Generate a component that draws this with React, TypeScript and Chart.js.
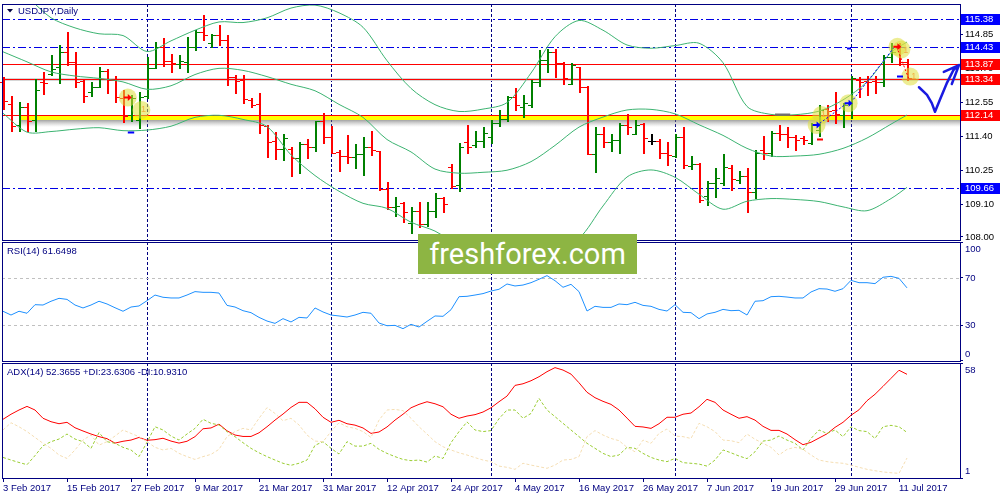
import React, { useEffect, useRef } from "react"
import { Chart, registerables } from "chart.js"

Chart.register(...registerables)

// bar index 0 = 3 Feb 2017, one bar per trading day (last bar = 12 Jul 2017)
const dateLabels = ["3 Feb 2017", "15 Feb 2017", "27 Feb 2017", "9 Mar 2017", "21 Mar 2017", "31 Mar 2017", "12 Apr 2017", "24 Apr 2017", "4 May 2017", "16 May 2017", "26 May 2017", "7 Jun 2017", "19 Jun 2017", "29 Jun 2017", "11 Jul 2017"]
const dateLabelBars = [0, 8, 16, 24, 32, 40, 48, 56, 64, 72, 80, 88, 96, 104, 112]
const monthStartBars = [18, 41, 61, 84, 106]

const open = [
  113.25, 112.49, 111.79, 112.40, 111.96, 113.26, 113.52, 113.74, 114.25, 113.91,
  113.28, 112.90, 113.09, 113.62, 113.32, 112.70, 112.13, 111.96, 112.77, 113.71,
  114.42, 113.97, 113.86, 113.94, 114.44, 114.95, 114.56, 114.84, 114.67, 113.43,
  113.32, 112.64, 112.49, 111.77, 111.25, 110.97, 110.97, 110.66, 111.15, 111.03,
  111.91, 111.40, 110.89, 110.74, 110.72, 110.81, 111.06, 110.90, 109.61, 109.00,
  109.16, 108.46, 108.88, 108.44, 108.88, 109.31, 110.38, 109.76, 111.23, 111.12,
  111.26, 111.40, 111.85, 111.98, 112.73, 112.41, 112.47, 113.26, 113.99, 114.27,
  113.88, 113.18, 113.77, 113.09, 110.81, 111.49, 111.23, 111.28, 111.79, 111.49,
  111.82, 111.25, 111.25, 110.83, 110.74, 111.38, 110.42, 110.46, 109.40, 109.82,
  109.82, 110.33, 109.93, 110.08, 109.54, 110.95, 110.86, 111.53, 111.49, 111.38,
  111.34, 111.19, 111.62, 112.32, 112.30, 112.13, 112.49, 113.32, 113.29, 113.29,
  113.26, 114.11, 114.44, 113.94,
]
const high = [
  113.43, 112.77, 112.57, 112.53, 113.34, 113.60, 114.16, 114.50, 114.93, 114.27,
  113.34, 113.26, 113.77, 113.69, 113.45, 112.98, 112.81, 112.92, 114.11, 114.59,
  114.73, 114.20, 114.16, 114.76, 115.01, 115.50, 114.87, 115.18, 114.84, 113.49,
  113.49, 112.70, 112.86, 111.79, 111.57, 111.49, 111.06, 111.21, 111.32, 111.94,
  112.19, 111.76, 110.95, 111.45, 111.15, 111.40, 111.60, 110.92, 109.85, 109.37,
  109.20, 109.03, 109.20, 109.17, 109.48, 109.37, 110.46, 111.17, 111.79, 111.60,
  111.71, 111.96, 112.30, 112.77, 113.03, 112.81, 113.32, 114.33, 114.35, 114.35,
  113.94, 113.88, 113.77, 113.11, 111.74, 111.71, 111.49, 111.85, 112.15, 111.96,
  111.85, 111.49, 111.31, 111.21, 111.49, 111.74, 110.75, 110.52, 109.90, 110.33,
  110.81, 110.44, 110.25, 110.33, 110.95, 111.42, 111.59, 111.79, 111.74, 111.45,
  111.42, 111.85, 112.47, 112.47, 112.92, 112.53, 113.46, 113.43, 113.45, 113.46,
  114.16, 114.56, 114.58, 114.02,
]
const low = [
  112.32, 111.60, 111.60, 111.60, 111.60, 112.84, 113.49, 113.23, 113.82, 113.07,
  112.58, 112.77, 113.07, 112.89, 112.58, 111.90, 111.93, 111.68, 112.70, 113.71,
  113.79, 113.60, 113.71, 113.60, 114.33, 114.67, 114.44, 114.50, 113.15, 112.89,
  112.55, 112.41, 111.53, 110.72, 110.63, 110.59, 110.08, 110.16, 110.69, 110.92,
  111.19, 110.83, 110.25, 110.52, 110.33, 110.10, 110.78, 109.59, 108.94, 108.71,
  108.52, 108.13, 108.33, 108.37, 108.69, 108.86, 109.65, 109.57, 110.85, 111.06,
  111.06, 111.19, 111.76, 111.94, 112.30, 112.05, 112.39, 113.11, 113.60, 113.43,
  113.18, 113.18, 112.92, 110.81, 110.21, 111.04, 110.92, 110.86, 111.49, 111.49,
  110.86, 111.15, 110.66, 110.44, 110.72, 110.33, 110.29, 109.20, 109.08, 109.37,
  109.76, 109.59, 109.82, 108.84, 109.31, 110.63, 110.74, 111.28, 111.04, 110.95,
  111.15, 111.15, 111.42, 111.91, 111.85, 111.71, 112.02, 112.73, 112.81, 112.86,
  113.11, 113.94, 113.82, 113.31,
]
const close = [
  112.62, 111.76, 112.40, 111.93, 112.98, 113.20, 113.69, 114.25, 113.94, 113.26,
  112.77, 113.09, 113.63, 113.32, 112.73, 112.10, 112.70, 112.73, 113.71, 114.42,
  113.97, 113.90, 113.97, 114.42, 114.95, 114.84, 114.84, 114.67, 113.43, 113.29,
  112.66, 112.47, 111.79, 111.23, 110.97, 111.34, 110.66, 111.15, 111.06, 111.93,
  111.40, 110.86, 110.74, 110.72, 110.81, 111.06, 110.95, 109.61, 109.03, 109.05,
  108.86, 108.89, 108.44, 108.88, 109.31, 109.11, 109.74, 111.06, 111.06, 111.25,
  111.51, 111.87, 111.98, 112.73, 112.47, 112.53, 113.26, 113.99, 114.27, 113.88,
  113.37, 113.82, 113.09, 110.81, 111.49, 111.23, 111.28, 111.79, 111.74, 111.79,
  111.34, 111.25, 110.83, 110.78, 111.38, 110.44, 110.46, 109.25, 109.82, 109.99,
  110.36, 109.95, 110.08, 109.54, 110.83, 110.86, 111.53, 111.49, 111.40, 111.28,
  111.28, 111.79, 112.30, 112.28, 112.16, 112.47, 113.37, 113.26, 113.26, 113.25,
  114.11, 114.27, 113.94, 113.37,
]

// Bollinger bands read every third bar
const bbBars = [0, 3, 6, 9, 12, 15, 18, 21, 24, 27, 30, 33, 36, 39, 42, 45, 48, 51, 54, 57, 60, 63, 66, 69, 72, 75, 78, 81, 84, 87, 90, 93, 96, 99, 102, 105, 108, 111, 113]
const bbUpper = [116.4, 116.1, 115.42, 115.08, 114.88, 114.82, 114.28, 114.64, 115.0, 115.28, 115.26, 115.42, 115.75, 115.85, 115.59, 115.1, 113.97, 113.03, 112.48, 112.25, 112.33, 112.55, 113.55, 114.78, 115.33, 115.0, 114.5, 114.39, 114.48, 114.56, 113.9, 112.42, 112.15, 112.14, 112.26, 112.64, 113.25, 114.25, 114.6]
const bbMiddle = [114.27, 113.93, 113.59, 113.45, 113.37, 113.25, 113.0, 113.12, 113.5, 113.71, 113.64, 113.43, 113.17, 112.95, 112.49, 112.05, 111.3, 110.88, 110.3, 110.16, 110.19, 110.26, 110.55, 111.1, 111.72, 112.06, 112.3, 112.32, 112.17, 111.8, 111.44, 111.0, 110.74, 110.74, 110.8, 111.0, 111.35, 111.82, 112.13]
const bbLower = [112.19, 111.55, 111.57, 111.65, 111.7, 111.6, 111.62, 111.75, 112.05, 112.12, 111.98, 111.74, 110.78, 110.08, 109.55, 109.14, 108.97, 108.5, 108.2, 107.7, 107.4, 107.3, 107.4, 107.6, 107.95, 109.05, 110.03, 110.27, 110.02, 109.45, 108.94, 109.21, 109.3, 109.27, 109.2, 109.02, 108.89, 109.3, 109.68]

const rsi = [
  41.7, 38.5, 41.7, 40.0, 47.3, 47.0, 50.2, 52.7, 51.8, 47.0, 44.5, 47.0, 50.2, 47.9, 44.7, 41.7,
  45.3, 46.2, 50.7, 55.5, 53.6, 53.0, 53.0, 55.5, 58.4, 57.8, 57.8, 57.2, 46.7, 45.3, 42.2, 40.5,
  36.5, 33.4, 31.4, 35.4, 32.6, 36.5, 36.0, 44.5, 41.1, 38.5, 37.7, 36.8, 38.5, 40.8, 40.0, 31.7,
  29.4, 29.7, 26.9, 30.6, 28.3, 33.1, 37.7, 37.4, 43.0, 54.1, 54.4, 55.5, 56.7, 58.9, 60.4,
  64.9, 63.2, 64.0, 66.0, 68.9, 72.0, 67.7, 62.1, 64.6, 58.4, 41.9, 45.9, 45.0, 45.0, 47.9, 47.3,
  49.3, 46.7, 45.9, 43.3, 41.9, 47.3, 40.8, 40.5, 35.4, 39.4, 40.8, 43.3, 42.2, 42.5, 38.5, 50.2,
  50.7, 54.1, 54.4, 53.8, 53.0, 53.0, 58.1, 60.9, 60.6, 58.7, 60.9, 68.0, 66.0, 66.0, 65.2, 70.6,
  71.4, 69.7, 61.6,
]

const adx = [
  30.1, 32.6, 34.7, 36.5, 34.7, 30.6, 28.9, 27.9, 28.6, 25.9, 24.3, 22.8, 21.5, 20.5, 18.3, 19.2,
  19.8, 21.1, 19.7, 20.0, 20.7, 19.3, 18.3, 19.2, 21.5, 25.4, 25.8, 27.7, 24.4, 22.3, 21.6, 21.6,
  23.4, 26.4, 29.7, 32.7, 36.0, 38.5, 38.5, 35.3, 31.1, 28.6, 29.6, 27.9, 27.2, 25.8, 23.1, 23.8,
  26.3, 29.7, 32.6, 35.8, 37.5, 38.8, 37.8, 36.3, 32.6, 30.6, 31.7, 32.4, 33.7, 35.8, 38.8,
  41.6, 46.9, 47.7, 49.2, 51.2, 53.7, 55.7, 54.5, 52.5, 48.2, 43.5, 40.8, 39.0, 37.5, 34.7, 30.7,
  26.6, 26.3, 25.6, 27.9, 31.1, 31.1, 32.6, 33.2, 36.3, 40.0, 38.5, 34.7, 32.6, 30.6, 31.4, 29.7,
  26.6, 24.6, 24.6, 22.8, 20.0, 17.5, 18.7, 20.8, 22.9, 26.1, 28.6, 32.1, 34.8, 39.3, 42.5, 46.4,
  50.4, 54.4, 52.4,
]
const plusDi = [
  11.2, 9.9, 8.7, 7.6, 12.1, 17.0, 19.0, 20.3, 22.8, 20.3, 19.0, 15.7, 23.5, 19.0, 18.2, 16.2,
  14.9, 11.6, 18.7, 26.4, 24.8, 21.8, 19.8, 22.8, 25.6, 30.1, 28.1, 27.3, 24.0, 21.5, 18.5, 15.7,
  13.5, 11.6, 9.9, 8.3, 7.3, 8.3, 9.9, 17.2, 19.0, 15.7, 12.9, 19.0, 16.8, 16.8, 18.2, 15.2,
  13.2, 11.6, 10.2, 9.6, 9.9, 8.9, 11.9, 10.7, 18.5, 24.0, 28.8, 24.8, 24.0, 24.5, 30.4,
  34.7, 34.7, 30.6, 33.0, 40.5, 34.7, 31.4, 28.1, 24.8, 21.5, 18.2, 15.7, 13.2, 11.6, 12.4, 16.2,
  15.7, 13.2, 11.2, 9.9, 9.1, 10.7, 8.6, 8.3, 7.9, 6.9, 9.9, 14.9, 13.5, 11.9, 10.6, 14.0,
  19.3, 19.8, 21.8, 19.8, 18.2, 14.9, 20.6, 24.8, 23.1, 24.8, 21.5, 26.4, 24.5, 24.0, 20.6, 26.4,
  27.1, 26.4, 23.6,
]
const minusDi = [
  24.8, 28.4, 26.4, 24.0, 21.1, 18.2, 15.7, 12.4, 10.7, 14.9, 19.8, 22.3, 17.3, 19.0, 21.8, 24.8,
  23.1, 21.5, 19.0, 16.2, 14.9, 15.7, 13.2, 11.6, 10.2, 11.6, 12.7, 15.2, 21.5, 24.0, 25.6, 24.8,
  30.6, 35.9, 33.0, 29.4, 30.6, 27.3, 22.3, 19.3, 19.0, 24.0, 28.4, 26.4, 25.6, 24.0, 21.1, 29.7,
  34.7, 35.0, 34.4, 30.6, 26.4, 22.8, 19.0, 16.5, 14.9, 13.5, 12.4, 11.1, 9.9, 9.1, 6.9,
  6.3, 5.3, 8.3, 7.4, 6.6, 5.8, 7.4, 9.9, 10.2, 11.6, 21.5, 24.5, 22.3, 20.6, 19.5, 16.2,
  14.0, 19.8, 18.2, 23.1, 25.3, 21.8, 21.5, 20.6, 28.1, 26.4, 24.0, 19.8, 19.5, 18.5, 22.8, 20.2,
  18.2, 16.2, 12.4, 15.2, 16.2, 15.2, 12.4, 9.9, 9.1, 8.6, 8.3, 7.4, 6.3, 5.3, 4.6, 4.0,
  3.6, 3.3, 10.9,
]

const priceTicks = [108.0, 109.1, 110.25, 111.4, 112.55, 113.7, 114.85]
const blueLevels = [115.38, 114.43, 109.66]
const redLevels = [113.87, 113.34]
const supportLevel = 112.14
const rsiTicks = [100, 70, 30, 0]
const rsiLevels = [70, 30]
const adxTicks = [58, 1]

const NAVY = "#000080"
const FONT = "'Liberation Sans', Arial, sans-serif"
const X_MIN = -0.125
const X_MAX = 119.625

const pts = (bars: number[], vals: number[]) => bars.map((b, k) => ({ x: b, y: vals[k] }))
const series = (vals: number[]) => vals.map((v, i) => ({ x: i, y: v }))

function hline(ctx: CanvasRenderingContext2D, x0: number, x1: number, y: number) {
  ctx.beginPath()
  ctx.moveTo(x0, y)
  ctx.lineTo(x1, y)
  ctx.stroke()
}

// frame, month separators and the panel caption
function panelPlugin(title: string, captionDy: number, withArrow = false) {
  return {
    id: "panel",
    beforeDatasetsDraw(chart: any) {
      const { ctx, chartArea: a, scales } = chart
      ctx.save()
      ctx.strokeStyle = NAVY
      ctx.lineWidth = 1
      ctx.setLineDash([3, 2])
      for (const b of monthStartBars) {
        const x = Math.round(scales.x.getPixelForValue(b)) + 0.5
        ctx.beginPath()
        ctx.moveTo(x, a.top)
        ctx.lineTo(x, a.bottom)
        ctx.stroke()
      }
      ctx.restore()
    },
    afterDraw(chart: any) {
      const { ctx, chartArea: a } = chart
      ctx.save()
      ctx.strokeStyle = NAVY
      ctx.lineWidth = 1
      ctx.strokeRect(a.left + 0.5, a.top + 0.5, a.right - a.left, a.bottom - a.top)
      ctx.font = `9.5px ${FONT}`
      ctx.textBaseline = "middle"
      ctx.fillStyle = NAVY
      let tx = a.left + 5
      if (withArrow) {
        ctx.fillStyle = "#000040"
        ctx.beginPath()
        ctx.moveTo(a.left + 5, a.top + 5)
        ctx.lineTo(a.left + 11, a.top + 5)
        ctx.lineTo(a.left + 8, a.top + 8.5)
        ctx.closePath()
        ctx.fill()
        ctx.fillStyle = NAVY
        tx = a.left + 16
      }
      ctx.fillText(title, tx, a.top + captionDy)
      ctx.restore()
    },
  }
}

// right-hand labels for the indicator windows (min/max labels kept inside)
function sideLabelsPlugin(values: number[]) {
  return {
    id: "sideLabels",
    afterDraw(chart: any) {
      const { ctx, chartArea: a, scales } = chart
      ctx.save()
      ctx.font = `9.5px ${FONT}`
      ctx.textBaseline = "middle"
      ctx.fillStyle = NAVY
      for (const v of values) {
        const py = Math.min(Math.max(scales.y.getPixelForValue(v), a.top + 7), a.bottom - 7)
        ctx.fillText(String(v), a.right + 5, py)
      }
      ctx.restore()
    },
  }
}

const levelsPlugin = {
  id: "levels",
  beforeDatasetsDraw(chart: any) {
    const { ctx, chartArea: a, scales } = chart
    const row = (v: number) => Math.round(scales.y.getPixelForValue(v))
    ctx.save()
    // support zone
    const ys = row(supportLevel)
    const zl = a.left + 18
    const shade = ctx.createLinearGradient(0, ys + 5, 0, ys + 12)
    shade.addColorStop(0, "rgba(100,100,100,0.6)")
    shade.addColorStop(1, "rgba(160,160,160,0)")
    ctx.fillStyle = shade
    ctx.fillRect(zl, ys + 5, a.right - zl, 7)
    ctx.fillStyle = "#ffff00"
    ctx.fillRect(zl, ys, a.right - zl, 5)
    // selected line gets a light grey halo
    ctx.fillStyle = "#d6d6d6"
    ctx.fillRect(a.left, row(redLevels[1]) - 1, a.right - a.left, 3)
    ctx.strokeStyle = "#ff0000"
    ctx.lineWidth = 1
    for (const v of [...redLevels, supportLevel]) hline(ctx, a.left, a.right, row(v) + 0.5)
    ctx.strokeStyle = "#0000e6"
    ctx.setLineDash([8, 3, 2, 3])
    for (const v of blueLevels) hline(ctx, a.left, a.right, row(v) + 0.5)
    ctx.restore()
  },
}

// OHLC bars: 2px range line, 1px open/close ticks
const ohlcPlugin = {
  id: "ohlc",
  beforeDatasetsDraw(chart: any) {
    const { ctx, scales } = chart
    const { x, y } = scales
    ctx.save()
    for (let i = 0; i < close.length; i++) {
      const px = Math.round(x.getPixelForValue(i))
      ctx.fillStyle = close[i] > open[i] ? "#008000" : close[i] < open[i] ? "#ff0000" : "#000000"
      const yh = Math.round(y.getPixelForValue(high[i]))
      const yl = Math.round(y.getPixelForValue(low[i]))
      const yo = Math.round(y.getPixelForValue(open[i]))
      const yc = Math.round(y.getPixelForValue(close[i]))
      ctx.fillRect(px, yh, 2, yl - yh + 1)
      ctx.fillRect(px - 3, yo, 3, 1)
      ctx.fillRect(px + 2, yc, 3, 1)
    }
    ctx.restore()
  },
}

// trade marks and the hand-drawn forecast
const marksPlugin = {
  id: "marks",
  afterDatasetsDraw(chart: any) {
    const { ctx, scales } = chart
    const P = (b: number, v: number) => [scales.x.getPixelForValue(b), scales.y.getPixelForValue(v)]
    ctx.save()
    ctx.fillStyle = "rgba(222,222,60,0.55)"
    const circles = [[15.6, 112.72], [17.3, 112.3], [101.7, 111.79], [102.3, 112.13], [105.7, 112.53], [111.8, 114.44], [112.3, 114.35], [113.4, 113.43]]
    for (const [b, v] of circles) {
      const [px, py] = P(b, v)
      ctx.beginPath()
      ctx.arc(px, py, 9, 0, Math.PI * 2)
      ctx.fill()
    }
    // dotted trade links
    ctx.lineWidth = 1
    ctx.setLineDash([2, 2])
    const links: [string, number[][]][] = [
      ["#0000ff", [[102.1, 111.85], [105.5, 112.53]]],
      ["#0000ff", [[106.3, 112.66], [111.3, 114.39]]],
      ["#ff0000", [[111.7, 114.44], [113.2, 113.37]]],
    ]
    for (const [c, seg] of links) {
      ctx.strokeStyle = c
      const [x0, y0] = P(seg[0][0], seg[0][1])
      const [x1, y1] = P(seg[1][0], seg[1][1])
      ctx.beginPath()
      ctx.moveTo(x0, y0)
      ctx.lineTo(x1, y1)
      ctx.stroke()
    }
    ctx.setLineDash([])
    // stop / take dashes
    ctx.lineWidth = 2
    const dashes: [string, number, number, number][] = [
      ["#0000ff", 15.6, 16.4, 111.55],
      ["#0000ff", 105.5, 106.0, 114.41],
      ["#0000ff", 111.75, 112.5, 113.45],
      ["#ff0000", 101.75, 102.5, 111.32],
      ["#707070", 96.5, 98.4, 112.18],
    ]
    for (const [c, b0, b1, v] of dashes) {
      ctx.strokeStyle = c
      const [x0, yy] = P(b0, v)
      const [x1] = P(b1, v)
      hline(ctx, x0, x1, Math.round(yy) + 0.5)
    }
    // arrows
    const arrows: [string, number, number][] = [
      ["#ff0000", 15.6, 112.72],
      ["#0000ff", 101.7, 111.79],
      ["#0000ff", 105.7, 112.53],
      ["#ff0000", 111.8, 114.44],
    ]
    for (const [c, b, v] of arrows) {
      const [px, py] = P(b, v)
      ctx.fillStyle = c
      ctx.beginPath()
      ctx.moveTo(px - 4, py - 1)
      ctx.lineTo(px, py - 1)
      ctx.lineTo(px, py - 3.5)
      ctx.lineTo(px + 4, py)
      ctx.lineTo(px, py + 3.5)
      ctx.lineTo(px, py + 1)
      ctx.lineTo(px - 4, py + 1)
      ctx.closePath()
      ctx.fill()
    }
    ctx.font = `9px ${FONT}`
    ctx.textAlign = "center"
    ctx.textBaseline = "middle"
    ctx.fillStyle = "#f0b040"
    for (const [b, v] of [[17.3, 112.3], [102.3, 112.13], [112.6, 114.3], [113.6, 113.43]]) {
      const [px, py] = P(b, v)
      ctx.fillText("1", px + 2, py)
    }
    // hand-drawn "V" forecast
    ctx.strokeStyle = "#1a1ae0"
    ctx.lineWidth = 2.5
    ctx.lineCap = "round"
    ctx.lineJoin = "round"
    const path = [[114.5, 113.07], [115.5, 112.81], [116.1, 112.53], [116.5, 112.24], [117.1, 112.64], [117.96, 113.2], [118.8, 113.65], [119.5, 113.82]]
    ctx.beginPath()
    path.forEach(([b, v], k) => {
      const [px, py] = P(b, v)
      if (k === 0) ctx.moveTo(px, py)
      else ctx.lineTo(px, py)
    })
    const [tx, ty] = P(119.5, 113.82)
    const [hx1, hy1] = P(117.6, 113.59)
    const [hx2, hy2] = P(118.6, 113.18)
    ctx.moveTo(hx1, hy1)
    ctx.lineTo(tx, ty)
    ctx.lineTo(hx2, hy2)
    ctx.stroke()
    ctx.restore()
  },
}

const boxesPlugin = {
  id: "boxes",
  afterDraw(chart: any) {
    const { ctx, chartArea: a, scales } = chart
    ctx.save()
    ctx.font = `9.5px ${FONT}`
    ctx.textBaseline = "middle"
    const tag = (v: number, bg: string) => {
      const py = Math.round(scales.y.getPixelForValue(v))
      ctx.fillStyle = bg
      ctx.fillRect(a.right + 1, py - 5, 39, 11)
      ctx.fillStyle = "#ffffff"
      ctx.fillText(v.toFixed(2), a.right + 5, py + 0.5)
    }
    for (const v of blueLevels) tag(v, "#0000ff")
    for (const v of redLevels) tag(v, "#ff0000")
    tag(supportLevel, "#ff0000")
    ctx.restore()
  },
}

const hiddenX = { type: "linear", min: X_MIN, max: X_MAX, display: false }

function rightAxis(min: number, max: number, ticks: number[], showLabels: boolean) {
  return {
    type: "linear",
    position: "right",
    min,
    max,
    afterBuildTicks: (s: any) => {
      s.ticks = ticks.map((v) => ({ value: v }))
    },
    afterFit: (s: any) => {
      s.width = 40
      s.paddingTop = 0
      s.paddingBottom = 0
    },
    ticks: {
      display: showLabels,
      autoSkip: false,
      padding: 2,
      color: "#000000",
      font: { family: FONT, size: 9.5 },
      callback: (v: any) => Number(v).toFixed(2),
    },
    grid: { drawOnChartArea: false, tickLength: 3, color: NAVY },
    border: { color: NAVY },
  }
}

function baseOptions(top: number, bottom: number, x: any, y: any) {
  return {
    animation: false,
    responsive: false,
    events: [],
    layout: { padding: { left: 2, right: 0, top, bottom }, autoPadding: false },
    plugins: { legend: { display: false }, tooltip: { enabled: false } },
    elements: { point: { radius: 0 } },
    scales: { x, y },
  }
}

const band = { borderColor: "#3cb371", borderWidth: 1, pointRadius: 0, tension: 0.3 }

export default function App() {
  const mainRef = useRef<HTMLCanvasElement>(null)
  const rsiRef = useRef<HTMLCanvasElement>(null)
  const adxRef = useRef<HTMLCanvasElement>(null)

  useEffect(() => {
    if (!mainRef.current || !rsiRef.current || !adxRef.current) return

    const main = new Chart(mainRef.current, {
      type: "line",
      data: {
        datasets: [
          { data: pts(bbBars, bbUpper), ...band },
          { data: pts(bbBars, bbMiddle), ...band },
          { data: pts(bbBars, bbLower), ...band },
        ],
      },
      options: baseOptions(4, 1, hiddenX, rightAxis(107.898, 115.888, priceTicks, true)) as any,
      plugins: [panelPlugin("USDJPY,Daily", 7, true), levelsPlugin, ohlcPlugin, marksPlugin, boxesPlugin],
    })

    const rsiLevelsPlugin = {
      id: "rsiLevels",
      beforeDatasetsDraw(chart: any) {
        const { ctx, chartArea: a, scales } = chart
        ctx.save()
        ctx.strokeStyle = "#c0c0c0"
        ctx.lineWidth = 1
        ctx.setLineDash([3, 3])
        for (const v of rsiLevels) hline(ctx, a.left, a.right, Math.round(scales.y.getPixelForValue(v)) + 0.5)
        ctx.restore()
      },
    }

    const rsiChart = new Chart(rsiRef.current, {
      type: "line",
      data: {
        datasets: [{ data: series(rsi), borderColor: "#1e90ff", borderWidth: 1, pointRadius: 0 }],
      },
      options: baseOptions(1, 1, hiddenX, rightAxis(-0.6, 100.6, rsiTicks, false)) as any,
      plugins: [panelPlugin("RSI(14) 61.6498", 9.5), rsiLevelsPlugin, sideLabelsPlugin(rsiTicks)],
    })

    const dateAxis = {
      type: "linear",
      position: "bottom",
      min: X_MIN,
      max: X_MAX,
      afterBuildTicks: (s: any) => {
        s.ticks = dateLabelBars.map((v) => ({ value: v }))
      },
      afterFit: (s: any) => {
        s.height = 22
        s.paddingLeft = 0
        s.paddingRight = 0
      },
      ticks: {
        autoSkip: false,
        maxRotation: 0,
        minRotation: 0,
        align: "start",
        padding: 1,
        color: NAVY,
        font: { family: FONT, size: 9.5 },
        callback: (_v: any, i: number) => dateLabels[i],
      },
      grid: { drawOnChartArea: false, tickLength: 4, color: NAVY },
      border: { color: NAVY },
    }

    const adxChart = new Chart(adxRef.current, {
      type: "line",
      data: {
        datasets: [
          { data: series(minusDi), borderColor: "#f5deb3", borderWidth: 1, borderDash: [3, 2], pointRadius: 0 },
          { data: series(plusDi), borderColor: "#9acd32", borderWidth: 1, borderDash: [3, 2], pointRadius: 0 },
          { data: series(adx), borderColor: "#ff0000", borderWidth: 1, pointRadius: 0 },
        ],
      },
      options: baseOptions(1, 0, dateAxis, rightAxis(1, 58, adxTicks, false)) as any,
      plugins: [panelPlugin("ADX(14) 52.3655 +DI:23.6306 -DI:10.9310", 9), sideLabelsPlugin(adxTicks)],
    })

    return () => {
      main.destroy()
      rsiChart.destroy()
      adxChart.destroy()
    }
  }, [])

  return (
    <div style={{ position: "fixed", left: 0, top: 0, width: 1000, height: 500, background: "#ffffff", overflow: "hidden" }}>
      <canvas ref={mainRef} width={1000} height={241} style={{ position: "absolute", left: 0, top: 0 }} />
      <canvas ref={rsiRef} width={1000} height={121} style={{ position: "absolute", left: 0, top: 241 }} />
      <canvas ref={adxRef} width={1000} height={138} style={{ position: "absolute", left: 0, top: 362 }} />
      <div
        style={{
          position: "absolute",
          left: 418,
          top: 234,
          width: 219,
          height: 40,
          background: "#8db543",
          color: "#ffffff",
          fontFamily: "Roboto, 'Open Sans', sans-serif",
          fontSize: 29,
          display: "flex",
          alignItems: "center",
          justifyContent: "center",
        }}
      >
        freshforex.com
      </div>
    </div>
  )
}
